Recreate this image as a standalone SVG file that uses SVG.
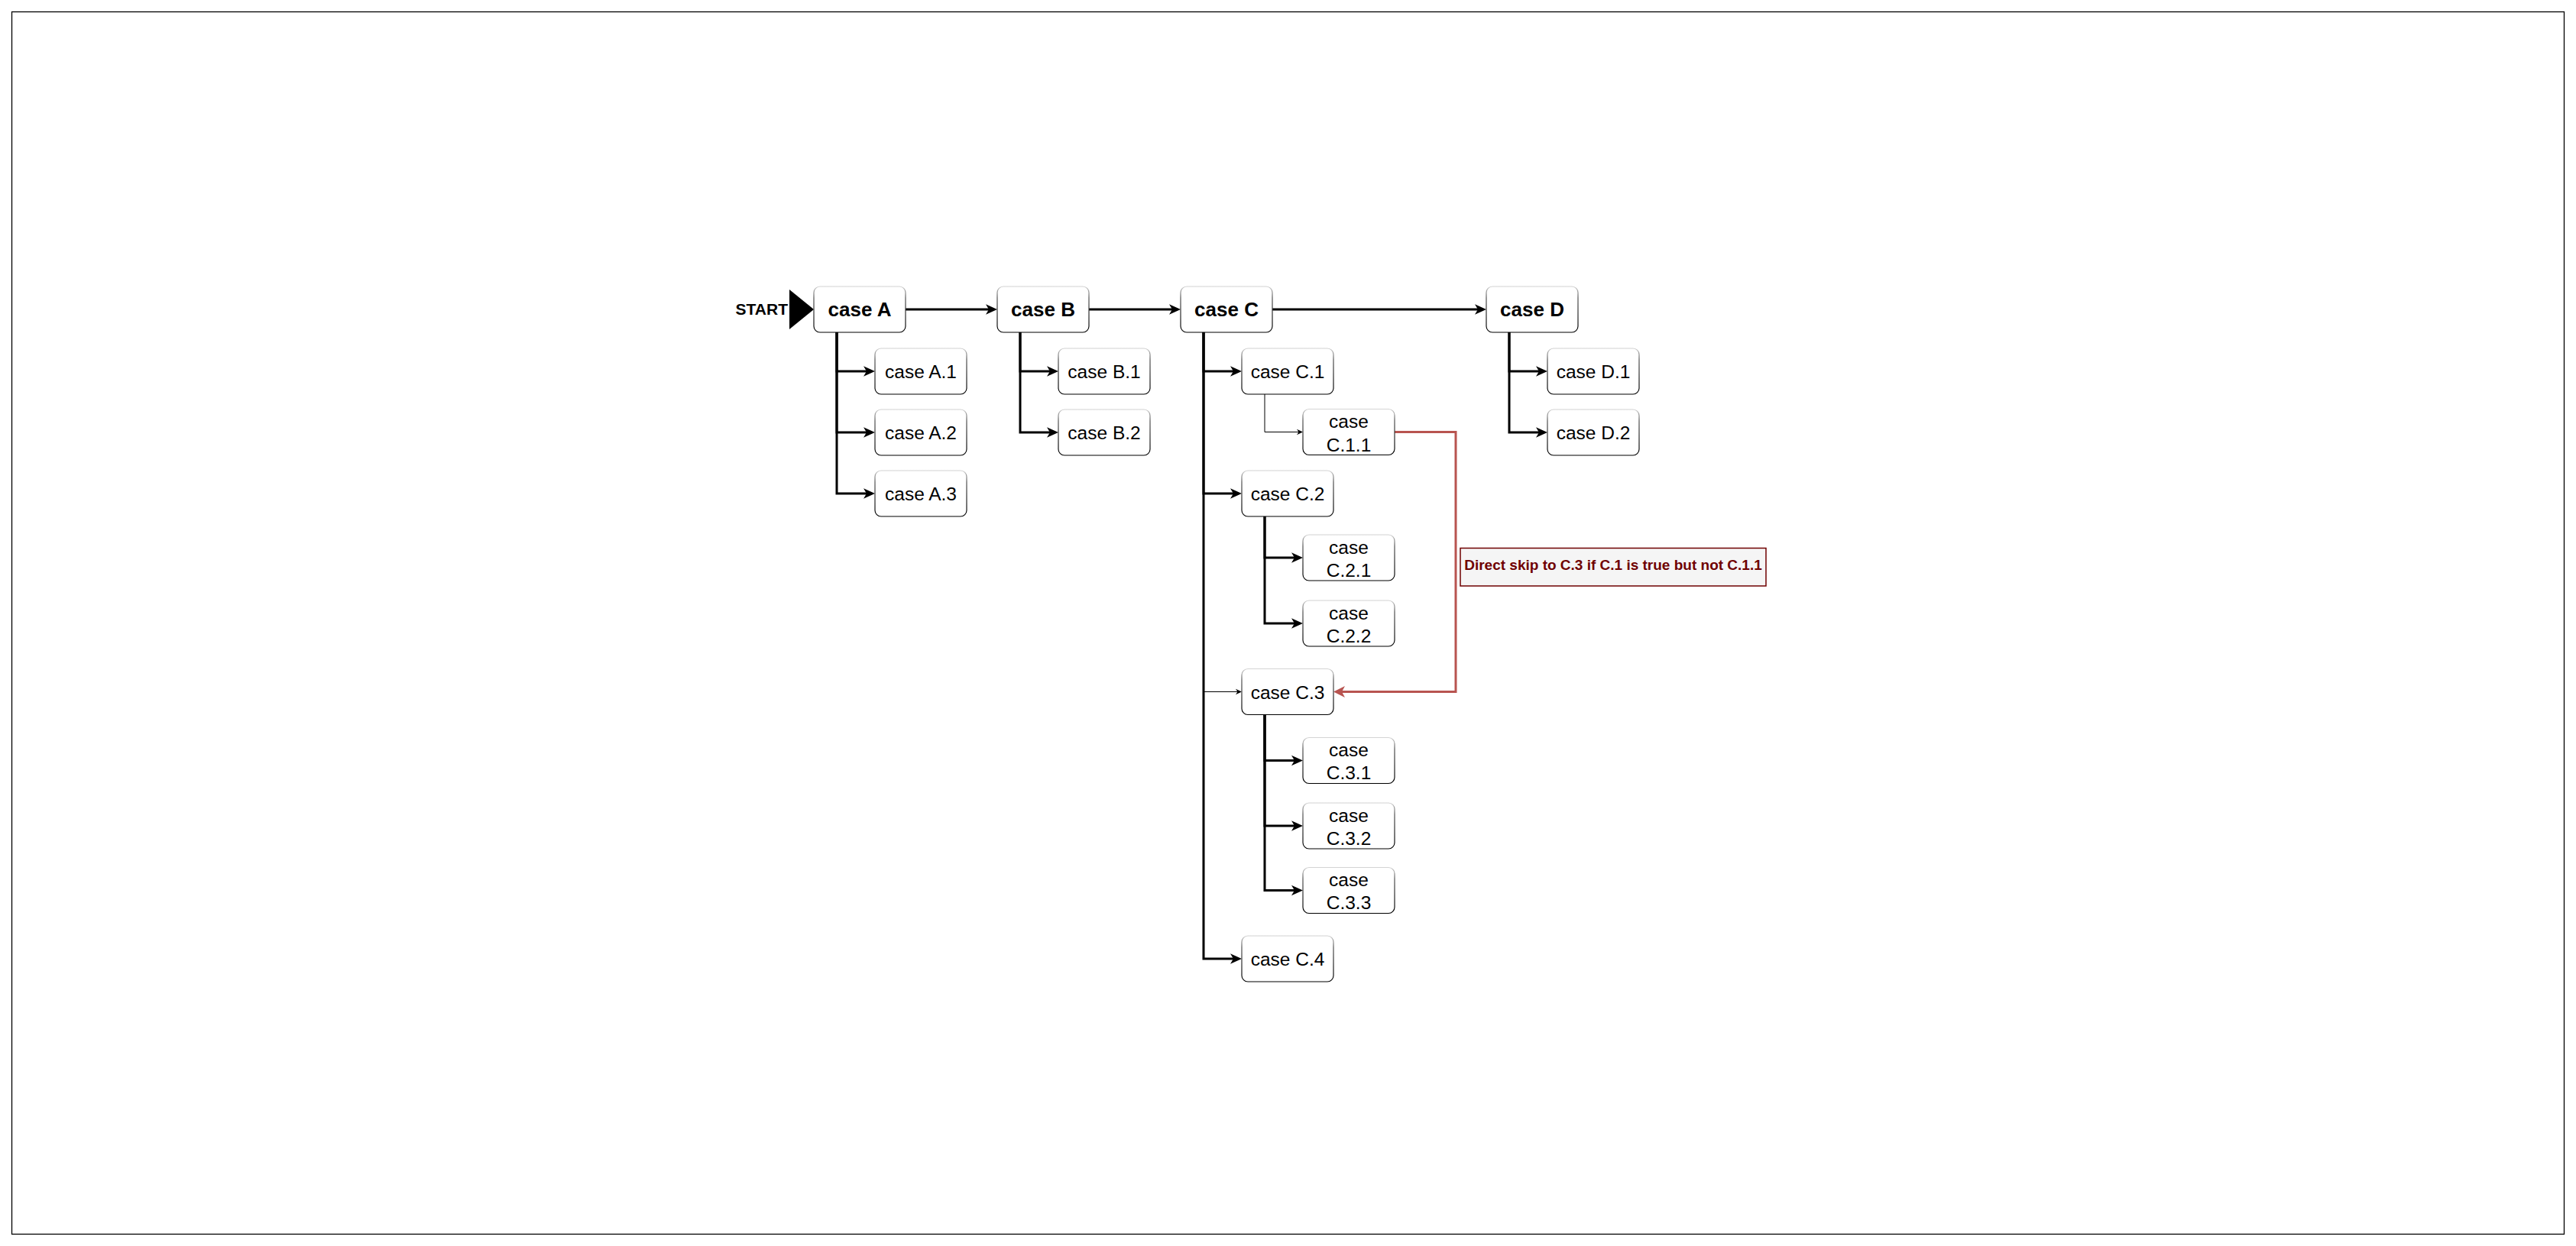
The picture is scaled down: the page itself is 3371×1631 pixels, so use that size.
<svg xmlns="http://www.w3.org/2000/svg" width="3371" height="1631" viewBox="0 0 3371 1631">
<style>
.bg{fill:#fff}
.frame{fill:none;stroke:#000;stroke-width:1.3}
.box{fill:#fff;stroke:url(#edge);stroke-width:1.2}
.t{font-family:"Liberation Sans",Arial,sans-serif;font-size:24.5px;fill:#000;text-anchor:middle}
.tb{font-family:"Liberation Sans",Arial,sans-serif;font-size:26px;font-weight:bold;fill:#000;text-anchor:middle}
.e{fill:none;stroke:#000;stroke-width:3;marker-end:url(#arr)}
.et{fill:none;stroke:#000;stroke-width:1;marker-end:url(#arrThin)}
.er{fill:none;stroke:#b85450;stroke-width:3;marker-end:url(#arrRed)}
</style>
<defs>
<linearGradient id="edge" x1="0" y1="0" x2="0" y2="1">
<stop offset="0" stop-color="#d4d4d4"/>
<stop offset="0.25" stop-color="#555"/>
<stop offset="1" stop-color="#000"/>
</linearGradient>
<marker id="arr" viewBox="-16 -8 17 16" refX="-10" refY="0" markerWidth="17" markerHeight="16" markerUnits="userSpaceOnUse" orient="auto">
<path d="M0,0 L-15,-6.7 L-11,0 L-15,6.7 Z" fill="#000"/>
</marker>
<marker id="arrThin" viewBox="-9 -5 10 10" refX="-5" refY="0" markerWidth="10" markerHeight="10" markerUnits="userSpaceOnUse" orient="auto">
<path d="M0,0 L-8,-3.7 L-5.5,0 L-8,3.7 Z" fill="#000"/>
</marker>
<marker id="arrRed" viewBox="-16 -9 17 18" refX="-10" refY="0" markerWidth="17" markerHeight="18" markerUnits="userSpaceOnUse" orient="auto">
<path d="M0,0 L-15,-7.5 L-11,0 L-15,7.5 Z" fill="#b85450"/>
</marker>
</defs>
<rect class="bg" x="0" y="0" width="3371" height="1631"/>
<rect class="frame" x="15.5" y="15.5" width="3340" height="1600"/>

<g id="connectors">
<path class="e" d="M1185,405 H1295"/>
<path class="e" d="M1425,405 H1535"/>
<path class="e" d="M1665,405 H1935"/>
<path class="e" d="M1095,435 V486 H1135"/>
<path class="e" d="M1095,435 V566 H1135"/>
<path class="e" d="M1095,435 V646 H1135"/>
<path class="e" d="M1335,435 V486 H1375"/>
<path class="e" d="M1335,435 V566 H1375"/>
<path class="et" d="M1575,435 V905.5 H1620"/>
<path class="e" d="M1575,435 V486 H1615"/>
<path class="e" d="M1575,435 V646 H1615"/>
<path class="e" d="M1575,435 V1255 H1615"/>
<path class="et" d="M1655,516 V565.5 H1700"/>
<path class="e" d="M1655,676 V730 H1695"/>
<path class="e" d="M1655,676 V816 H1695"/>
<path class="e" d="M1655,935 V995.5 H1695"/>
<path class="e" d="M1655,935 V1081 H1695"/>
<path class="e" d="M1655,935 V1165.5 H1695"/>
<path class="e" d="M1975,435 V486 H2015"/>
<path class="e" d="M1975,435 V566 H2015"/>
<path class="er" d="M1825,565.5 H1905 V905.5 H1755"/>
</g>

<g id="start">
<text x="1031" y="412" style="font-family:'Liberation Sans',Arial,sans-serif;font-size:21px;font-weight:bold;text-anchor:end">START</text>
<polygon points="1033,379 1065,405 1033,431" fill="#000"/>
</g>

<g id="caseA"><rect class="box" x="1065" y="375" width="120" height="60" rx="8"/><text class="tb" x="1125" y="414">case A</text></g>
<g id="caseB"><rect class="box" x="1305" y="375" width="120" height="60" rx="8"/><text class="tb" x="1365" y="414">case B</text></g>
<g id="caseC"><rect class="box" x="1545" y="375" width="120" height="60" rx="8"/><text class="tb" x="1605" y="414">case C</text></g>
<g id="caseD"><rect class="box" x="1945" y="375" width="120" height="60" rx="8"/><text class="tb" x="2005" y="414">case D</text></g>

<g id="caseA1"><rect class="box" x="1145" y="456" width="120" height="60" rx="8"/><text class="t" x="1205" y="495">case A.1</text></g>
<g id="caseA2"><rect class="box" x="1145" y="536" width="120" height="60" rx="8"/><text class="t" x="1205" y="575">case A.2</text></g>
<g id="caseA3"><rect class="box" x="1145" y="616" width="120" height="60" rx="8"/><text class="t" x="1205" y="655">case A.3</text></g>

<g id="caseB1"><rect class="box" x="1385" y="456" width="120" height="60" rx="8"/><text class="t" x="1445" y="495">case B.1</text></g>
<g id="caseB2"><rect class="box" x="1385" y="536" width="120" height="60" rx="8"/><text class="t" x="1445" y="575">case B.2</text></g>

<g id="caseC1"><rect class="box" x="1625" y="456" width="120" height="60" rx="8"/><text class="t" x="1685" y="495">case C.1</text></g>
<g id="caseC11"><rect class="box" x="1705" y="535.5" width="120" height="60" rx="8"/><text class="t" x="1765" y="560">case</text><text class="t" x="1765" y="590.5">C.1.1</text></g>
<g id="caseC2"><rect class="box" x="1625" y="616" width="120" height="60" rx="8"/><text class="t" x="1685" y="655">case C.2</text></g>
<g id="caseC21"><rect class="box" x="1705" y="700" width="120" height="60" rx="8"/><text class="t" x="1765" y="724.5">case</text><text class="t" x="1765" y="755">C.2.1</text></g>
<g id="caseC22"><rect class="box" x="1705" y="786" width="120" height="60" rx="8"/><text class="t" x="1765" y="810.5">case</text><text class="t" x="1765" y="841">C.2.2</text></g>
<g id="caseC3"><rect class="box" x="1625" y="875.5" width="120" height="60" rx="8"/><text class="t" x="1685" y="914.5">case C.3</text></g>
<g id="caseC31"><rect class="box" x="1705" y="965.5" width="120" height="60" rx="8"/><text class="t" x="1765" y="990">case</text><text class="t" x="1765" y="1020">C.3.1</text></g>
<g id="caseC32"><rect class="box" x="1705" y="1051" width="120" height="60" rx="8"/><text class="t" x="1765" y="1075.5">case</text><text class="t" x="1765" y="1105.5">C.3.2</text></g>
<g id="caseC33"><rect class="box" x="1705" y="1135.5" width="120" height="60" rx="8"/><text class="t" x="1765" y="1160">case</text><text class="t" x="1765" y="1190">C.3.3</text></g>
<g id="caseC4"><rect class="box" x="1625" y="1225" width="120" height="60" rx="8"/><text class="t" x="1685" y="1264">case C.4</text></g>

<g id="caseD1"><rect class="box" x="2025" y="456" width="120" height="60" rx="8"/><text class="t" x="2085" y="495">case D.1</text></g>
<g id="caseD2"><rect class="box" x="2025" y="536" width="120" height="60" rx="8"/><text class="t" x="2085" y="575">case D.2</text></g>

<g id="skipLabel">
<rect x="1911" y="717.5" width="400" height="49.5" fill="#f5f5f5" stroke="#6f0000" stroke-width="1.5"/>
<text x="2111" y="746" style="font-family:'Liberation Sans',Arial,sans-serif;font-size:19px;font-weight:bold;fill:#6f0000;text-anchor:middle">Direct skip to C.3 if C.1 is true but not C.1.1</text>
</g>
</svg>
